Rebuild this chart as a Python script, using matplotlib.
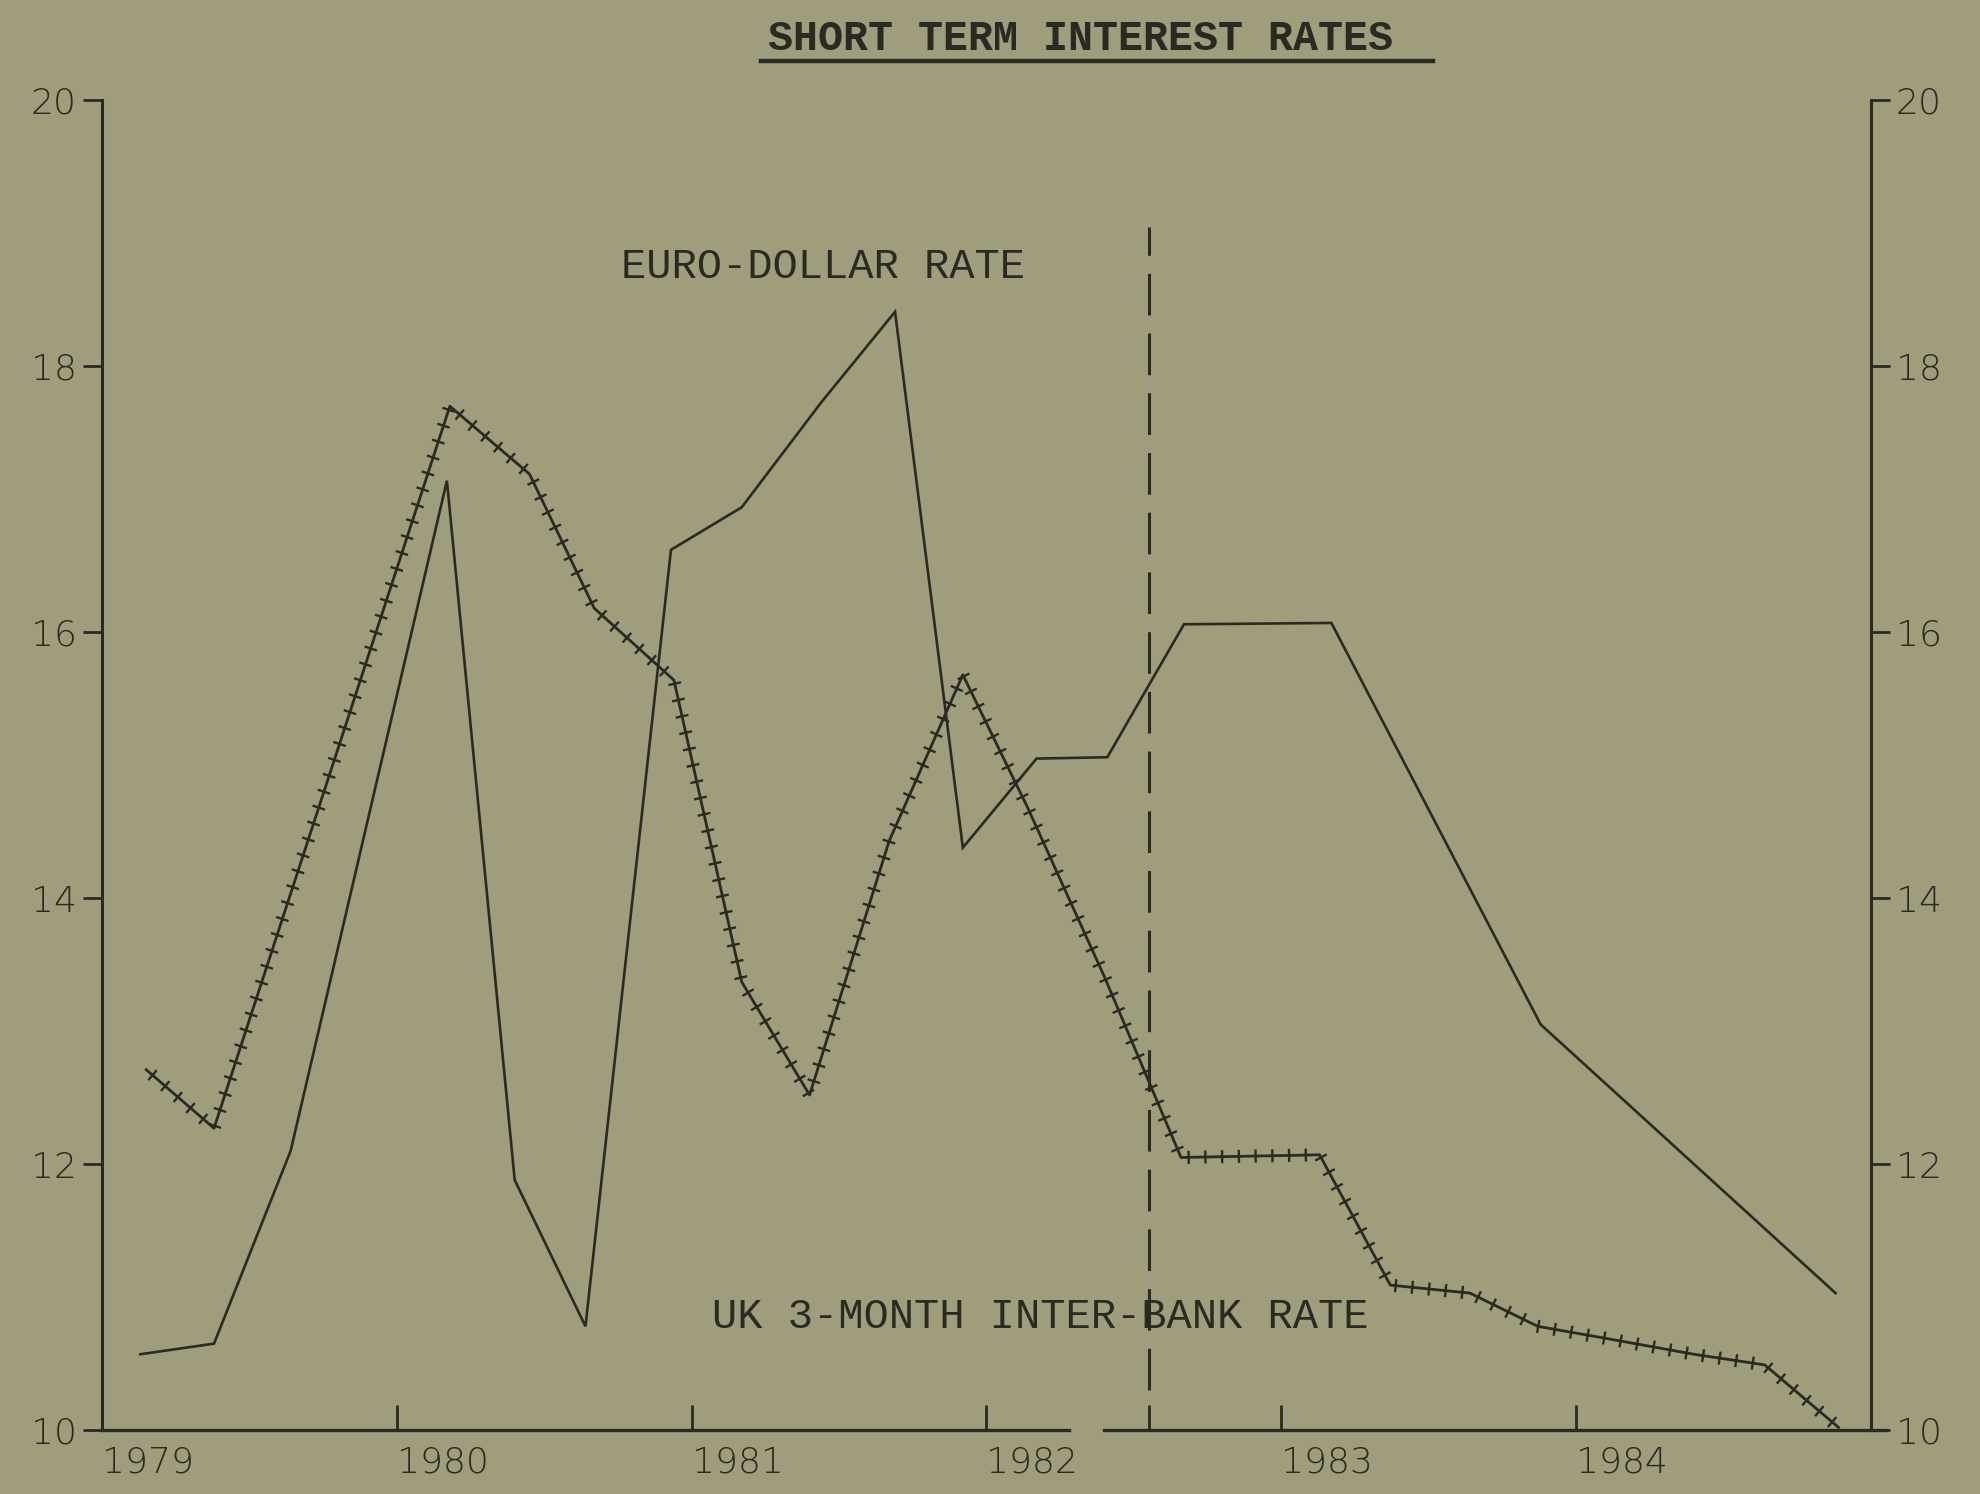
import matplotlib
matplotlib.use("Agg")
import matplotlib.pyplot as plt
import matplotlib.patheffects as pe
from matplotlib.lines import Line2D

# ---------------- data ----------------
euro_x = [1979.13, 1979.38, 1979.64, 1980.17, 1980.40, 1980.64, 1980.93, 1981.17,
          1981.44, 1981.69, 1981.92, 1982.17, 1982.41, 1982.67, 1983.17, 1983.88, 1984.88]
euro_y = [10.57, 10.65, 12.10, 17.14, 11.88, 10.78, 16.62, 16.94,
          17.73, 18.41, 14.38, 15.05, 15.06, 16.06, 16.07, 13.05, 11.03]

uk_x = [1979.15, 1979.38, 1980.18, 1980.45, 1980.67, 1980.94, 1981.17, 1981.40,
        1981.67, 1981.92, 1982.14, 1982.40, 1982.66, 1983.13, 1983.37, 1983.64,
        1983.87, 1984.10, 1984.40, 1984.64, 1984.89]
uk_y = [12.71, 12.27, 17.70, 17.19, 16.18, 15.64, 13.37, 12.52,
        14.43, 15.68, 14.68, 13.41, 12.05, 12.07, 11.09, 11.03,
        10.78, 10.69, 10.57, 10.49, 10.02]

year_ticks = [1979, 1980, 1981, 1982, 1983, 1984]
year_labels = ["1979", "1980", "1981", "1982", "1983", "1984"]
rate_ticks = [10, 12, 14, 16, 18, 20]
rate_labels = ["10", "12", "14", "16", "18", "20"]
forecast_start = 1982.55

title = "SHORT TERM INTEREST RATES"
euro_label = "EURO-DOLLAR RATE"
uk_label = "UK 3-MONTH INTER-BANK RATE"

# ---------------- style ----------------
BG = "#a09d7c"
INK = "#2b2a22"
plt.rcParams["lines.scale_dashes"] = False

fig = plt.figure(figsize=(19.8, 14.94), dpi=100, facecolor=BG)
ax = fig.add_axes([0.0515, 0.0428, 0.8934, 0.890])
ax.set_facecolor(BG)
ax.set_xlim(1979, 1985)
ax.set_ylim(10, 20)

for s in ["top", "bottom"]:
    ax.spines[s].set_visible(False)
for s in ["left", "right"]:
    ax.spines[s].set_color(INK)
    ax.spines[s].set_linewidth(2.2)

# x axis drawn in two pieces (two joined panels)
xtr = ax.get_xaxis_transform()
ax.plot([1979, 1982.28], [0, 0], color=INK, lw=2.4, transform=xtr, clip_on=False)
ax.plot([1982.40, 1985.05], [0, 0], color=INK, lw=2.4, transform=xtr, clip_on=False)

# series
ax.plot(euro_x, euro_y, color=INK, lw=1.9, solid_joinstyle="miter")
ax.plot(uk_x, uk_y, color=INK, lw=2.0,
        path_effects=[pe.Normal(),
                      pe.TickedStroke(spacing=12, angle=90, length=0.32, linewidth=1.7),
                      pe.TickedStroke(spacing=12, angle=-90, length=0.32, linewidth=1.7)])

# vertical dashed line
ax.plot([forecast_start, forecast_start], [10.3, 19.05], color=INK, lw=2.2,
        dashes=(30, 13))

# ticks
ax.set_yticks(rate_ticks)
ax.set_yticklabels(rate_labels)
ax.tick_params(axis="y", which="both", direction="out", length=14, width=2,
               color=INK, labelcolor=INK, labelsize=26, left=True, right=True,
               labelleft=True, labelright=True, pad=4)
for lab in ax.get_yticklabels():
    lab.set_fontweight("light")

ax.set_xticks(year_ticks)
ax.set_xticklabels(year_labels)
ax.set_xticks([forecast_start], minor=True)
ax.tick_params(axis="x", which="both", direction="in", length=18, width=2,
               color=INK, labelcolor=INK, labelsize=26, pad=11)
for lab in ax.get_xticklabels():
    lab.set_horizontalalignment("left")
    lab.set_fontweight("light")

# annotations
ax.text(1980.76, 18.75, euro_label, fontsize=30.3, family="Liberation Mono",
        color=INK, ha="left", va="center")
ax.text(1981.07, 10.85, uk_label, fontsize=30.3, family="Liberation Mono",
        color=INK, ha="left", va="center")

fig.text(0.5455, 0.974, title, fontsize=30, family="Liberation Mono",
         fontweight="bold", color=INK, ha="center", va="center")
fig.add_artist(Line2D([761 / 1980, 1433 / 1980], [1 - 61 / 1494, 1 - 61 / 1494],
                      color=INK, lw=3.2, transform=fig.transFigure))

fig.savefig("out.png", dpi=100, facecolor=BG)
